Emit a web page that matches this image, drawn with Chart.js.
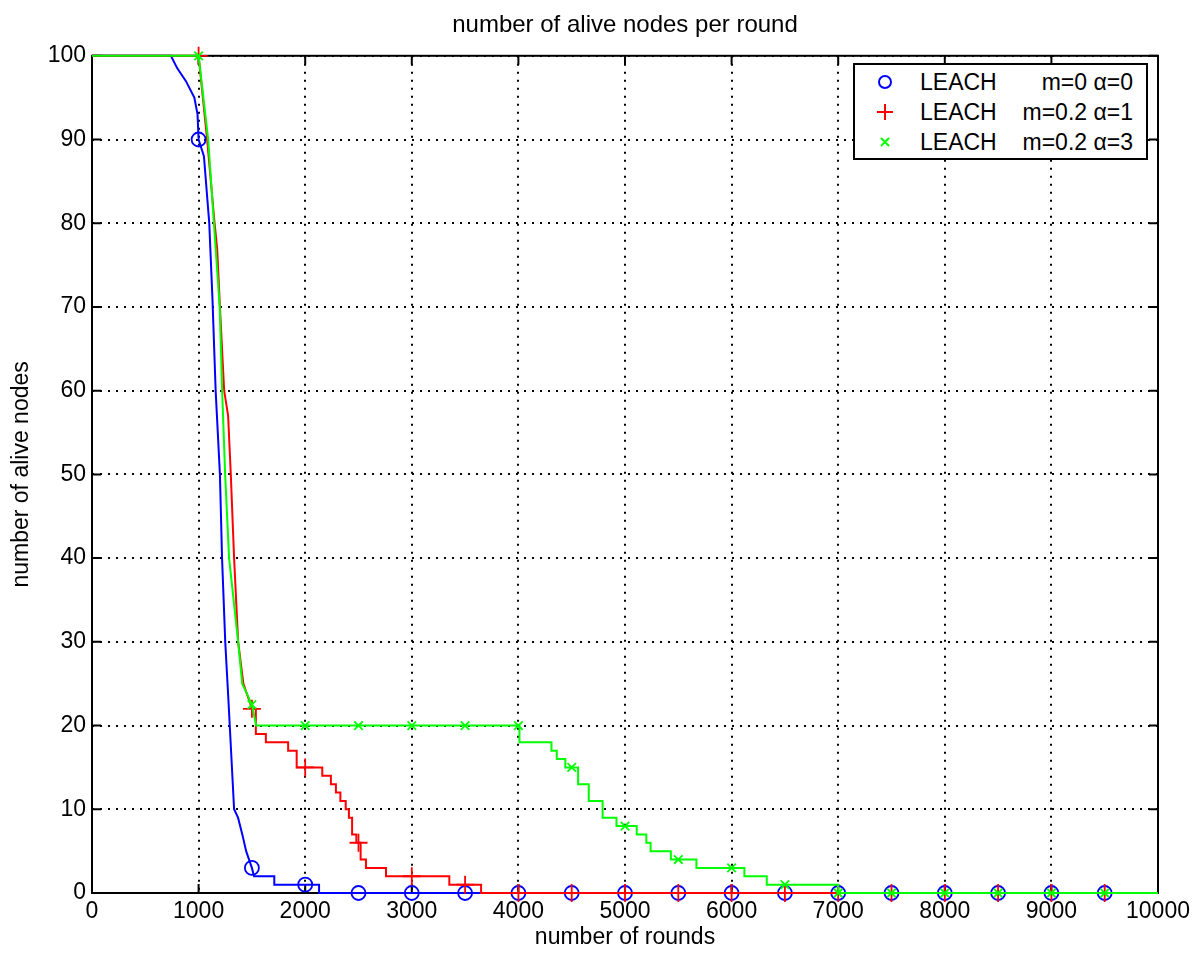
<!DOCTYPE html>
<html lang="en">
<head>
  <meta charset="UTF-8">
  <title>number of alive nodes per round</title>
  <script src="https://cdn.jsdelivr.net/npm/chart.js"></script>
  <style>
    * { margin: 0; padding: 0; box-sizing: border-box; }
    body { background: #fff; font-family: 'Liberation Sans', Arial, sans-serif; }
    .wrap { position: relative; width: 1203px; height: 954px; }
    .legend {
      position: absolute; left: 853px; top: 63px; width: 295px; height: 97px;
      border: 2px solid #000; background: #fff; font-size: 23px; color: #000;
    }
    .legend .row { position: absolute; left: 0; right: 0; height: 30px; line-height: 30px; }
    .legend svg { position: absolute; left: 20px; top: 5px; }
    .legend .name { position: absolute; left: 65px; }
    .legend .param { position: absolute; right: 13px; }
  </style>
</head>
<body>
  <div class="wrap">
    <canvas id="alive-chart" width="1203" height="954"></canvas>
    <div class="legend">
      <div class="row" style="top:2px">
        <svg width="20" height="20"><circle cx="10" cy="10" r="6" fill="none" stroke="#0000ff" stroke-width="2"/></svg>
        <span class="name">LEACH</span><span class="param">m=0 α=0</span>
      </div>
      <div class="row" style="top:32px">
        <svg width="20" height="20"><path d="M2 10H18M10 2V18" stroke="#ff0000" stroke-width="2"/></svg>
        <span class="name">LEACH</span><span class="param">m=0.2 α=1</span>
      </div>
      <div class="row" style="top:62px">
        <svg width="20" height="20"><path d="M6 6L14 14M14 6L6 14" stroke="#00ff00" stroke-width="2"/></svg>
        <span class="name">LEACH</span><span class="param">m=0.2 α=3</span>
      </div>
    </div>
  </div>

  <script>
    // staircase outlines (round, alive nodes)
    const blueRounds = [0, 740, 800, 880, 960, 990, 1000, 1050, 1100, 1130, 1160, 1200, 1220, 1250, 1280, 1333, 1370, 1410, 1446, 1500, 1520,
      1710, 1710, 2130, 2130, 10000];
    const blueAlive = [100, 100, 98.5, 97, 95, 93, 90, 88, 80, 71, 60, 50, 40, 30, 23, 10, 9, 7, 5, 3, 2,
      2, 1, 1, 0, 0];

    const redRounds = [0, 1000, 1080, 1150, 1174, 1200, 1240, 1277, 1302, 1333, 1371, 1420, 1474, 1500,
      1537, 1537, 1631, 1631, 1840, 1840, 1920, 1920, 2160, 2160, 2241, 2241, 2288, 2288, 2330, 2330,
      2380, 2380, 2410, 2410, 2440, 2440, 2480, 2480, 2520, 2520, 2570, 2570, 2758, 2758, 3352, 3352, 3650, 3650, 10000];
    const redAlive = [100, 100, 90, 80, 77, 70, 60, 57, 50, 40, 30, 25, 23, 22,
      22, 19, 19, 18, 18, 17, 17, 15, 15, 14, 14, 13, 13, 12, 12, 11,
      11, 10, 10, 9, 9, 7, 7, 6, 6, 4, 4, 3, 3, 2, 2, 1, 1, 0, 0];

    const greenRounds = [0, 1000, 1090, 1160, 1198, 1221, 1249, 1286, 1371, 1409, 1446, 1500, 1540,
      4010, 4010, 4310, 4310, 4360, 4360, 4440, 4440, 4560, 4560, 4660, 4660, 4790, 4790, 4920, 4920,
      5110, 5110, 5200, 5200, 5240, 5240, 5430, 5430, 5670, 5670, 6120, 6120, 6330, 6330, 7000, 7000, 10000];
    const greenAlive = [100, 100, 90, 77, 70, 60, 50, 40, 30, 25, 24, 22.5, 20,
      20, 18, 18, 17, 17, 16, 16, 15, 15, 13, 13, 11, 11, 9, 9, 8,
      8, 7, 7, 6, 6, 5, 5, 4, 4, 3, 3, 2, 2, 1, 1, 0, 0];

    // markers every 500 rounds
    const markRounds = [1000, 1500, 2000, 2500, 3000, 3500, 4000, 4500, 5000, 5500, 6000, 6500, 7000, 7500, 8000, 8500, 9000, 9500];
    const blueMarks = [90, 3, 1, 0, 0, 0, 0, 0, 0, 0, 0, 0, 0, 0, 0, 0, 0, 0];
    const redMarks = [100, 22, 15, 6, 2, 1, 0, 0, 0, 0, 0, 0, 0, 0, 0, 0, 0, 0];
    const greenMarks = [100, 22.5, 20, 20, 20, 20, 20, 15, 8, 4, 3, 1, 0, 0, 0, 0, 0, 0];

    const xTicks = [0, 1000, 2000, 3000, 4000, 5000, 6000, 7000, 8000, 9000, 10000];
    const yTicks = [0, 10, 20, 30, 40, 50, 60, 70, 80, 90, 100];

    const FONT = "'Liberation Sans', Arial, sans-serif";

    function pts(xs, ys) {
      return xs.map((x, i) => ({ x, y: ys[i] }));
    }

    function lineSet(xs, ys, color, order) {
      return {
        data: pts(xs, ys), borderColor: color, borderWidth: 2, pointRadius: 0,
        tension: 0, fill: false, clip: false, order
      };
    }

    function markSet(ys, color, style, radius, order) {
      return {
        data: pts(markRounds, ys), showLine: false, pointStyle: style, pointRadius: radius,
        pointBorderColor: color, pointBackgroundColor: 'rgba(0,0,0,0)', pointBorderWidth: 1.8,
        clip: false, order
      };
    }

    // matlab style box with inward ticks
    const frameBox = {
      id: 'frameBox',
      beforeDatasetsDraw(chart) {
        const { ctx, chartArea: a, scales } = chart;
        ctx.save();
        ctx.strokeStyle = '#000';
        ctx.lineWidth = 2;
        ctx.strokeRect(a.left, a.top, a.right - a.left, a.bottom - a.top);
        ctx.beginPath();
        xTicks.forEach(v => {
          const px = scales.x.getPixelForValue(v);
          ctx.moveTo(px, a.bottom); ctx.lineTo(px, a.bottom - 9);
          ctx.moveTo(px, a.top); ctx.lineTo(px, a.top + 9);
        });
        yTicks.forEach(v => {
          const py = scales.y.getPixelForValue(v);
          ctx.moveTo(a.left, py); ctx.lineTo(a.left + 9, py);
          ctx.moveTo(a.right, py); ctx.lineTo(a.right - 9, py);
        });
        ctx.stroke();
        ctx.restore();
      }
    };

    const gridOpts = { color: '#000', lineWidth: 2, drawTicks: false };
    const borderOpts = { display: false, dash: [2, 6] };

    new Chart(document.getElementById('alive-chart'), {
      type: 'line',
      data: {
        datasets: [
          lineSet(blueRounds, blueAlive, '#0000ff', 6),
          markSet(blueMarks, '#0000ff', 'circle', 7, 5),
          lineSet(redRounds, redAlive, '#ff0000', 4),
          markSet(redMarks, '#ff0000', 'cross', 9, 3),
          lineSet(greenRounds, greenAlive, '#00ff00', 2),
          markSet(greenMarks, '#00ff00', 'crossRot', 6, 1)
        ]
      },
      options: {
        responsive: false,
        animation: false,
        events: [],
        layout: { padding: { left: 0, right: 45, top: 0, bottom: 0 } },
        plugins: {
          legend: { display: false },
          tooltip: { enabled: false },
          title: {
            display: true, fullSize: false,
            text: 'number of alive nodes per round',
            color: '#000', font: { family: FONT, size: 24, weight: 'normal' },
            padding: { top: 11, bottom: 16 }
          }
        },
        scales: {
          x: {
            type: 'linear', min: 0, max: 10000,
            afterFit: s => { s.height = 61; },
            afterBuildTicks: s => { s.ticks = xTicks.map(v => ({ value: v })); },
            ticks: { color: '#000', font: { family: FONT, size: 23 }, padding: 5, maxRotation: 0, autoSkip: false, callback: v => String(v) },
            grid: gridOpts,
            border: borderOpts,
            title: { display: true, text: 'number of rounds', color: '#000', font: { family: FONT, size: 23 }, padding: { top: 0, bottom: 3 } }
          },
          y: {
            type: 'linear', min: 0, max: 100,
            afterFit: s => { s.width = 92; },
            afterBuildTicks: s => { s.ticks = yTicks.map(v => ({ value: v })); },
            ticks: { color: '#000', font: { family: FONT, size: 23 }, padding: 6, autoSkip: false, callback: v => String(v) },
            grid: gridOpts,
            border: borderOpts,
            title: { display: true, text: 'number of alive nodes', color: '#000', font: { family: FONT, size: 23 }, padding: { top: 8, bottom: 0 } }
          }
        }
      },
      plugins: [frameBox]
    });
  </script>
</body>
</html>
